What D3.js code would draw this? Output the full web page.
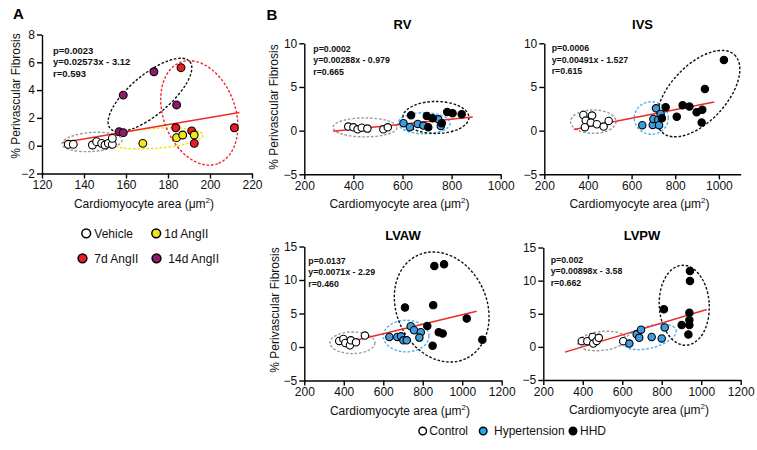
<!DOCTYPE html>
<html><head><meta charset="utf-8">
<script src="https://cdn.jsdelivr.net/npm/d3@7"></script>
<style>body{margin:0;background:#fff} svg{display:block;font-family:Arial,"Liberation Sans",Helvetica,sans-serif}</style>
</head><body><svg id="c" width="757" height="450"></svg>
<script>
// ---------------- DATA ----------------
// Panel A (x: cardiomyocyte area µm², y: % perivascular fibrosis)
const aVehicle = [[132.5,0.1],[134.9,0.1],[144.0,0.05],[146.0,0.29],[148.4,0.17],[150.0,0.05],[151.6,0.17],[153.5,0.1],[153.5,0.53]];
const a7d      = [[186.2,5.61],[183.7,1.29],[211.6,1.29],[191.3,1.06],[192.5,0.17]];
const a14d     = [[173.3,5.32],[158.7,3.64],[184.1,2.93],[156.7,1.0],[158.7,0.94]];
const a1d      = [[168.0,0.17],[184.1,0.58],[187.0,0.77],[192.5,0.77]];
const aXTicks = [120,140,160,180,200,220];
const aYTicks = [-2,0,2,4,6,8];
const aStats = ["p=0.0023","y=0.02573x - 3.12","r=0.593"];
const aFit = {slope:0.02573, intercept:-3.12, from:130, to:214};

// Panel B - RV
const rvControl = [[379,0.46],[400,0.38],[417,0.15],[434,0.34],[457,0.23],[522,0.15],[540,0.38]];
const rvHyper   = [[604,0.85],[630,0.4],[662,0.77],[685,0.58],[746,1.3],[756,0.54]];
const rvHHD     = [[635,1.76],[699,1.68],[723,1.42],[782,2.14],[804,1.99],[841,1.88],[705,0.39],[760,0.85]];
const rvStats = ["p=0.0002","y=0.00288x - 0.979","r=0.665"];
const rvFit = {slope:0.00288, intercept:-0.979, from:318, to:886};

// Panel B - IVS
const ivsControl = [[379,1.8],[390,1.15],[386,0.4],[419,1.72],[413,0.92],[441,0.73],[472,0.46],[495,1.11]];
const ivsHyper   = [[649,0.62],[697,0.65],[712,2.56],[700,1.34],[722,1.22],[733,1.91],[726,0.62]];
const ivsHHD     = [[756,2.68],[739,1.42],[807,1.6],[834,2.9],[865,2.75],[898,2.1],[924,2.4],[921,0.92],[936,4.78],[1023,8.1]];
const ivsStats = ["p=0.0006","y=0.00491x - 1.527","r=0.615"];
const ivsFit = {slope:0.00491, intercept:-1.527, from:336, to:979};

// Panel B - LVAW
const lvawControl = [[377,0.9],[398,1.2],[408,0.6],[431,0.25],[436,1.0],[462,0.7],[507,1.7]];
const lvawHyper   = [[631,1.5],[671,1.5],[690,1.6],[702,1.0],[719,1.0],[739,3.1],[756,2.5],[790,2.2],[783,1.4]];
const lvawHHD     = [[710,5.9],[859,12.1],[908,12.35],[853,6.25],[823,3.15],[881,2.2],[901,2.0],[850,0.2],[1023,4.25],[1102,1.1]];
const lvawStats = ["p=0.0137","y=0.0071x - 2.29","r=0.460"];
const lvawFit = {slope:0.0071, intercept:-2.29, from:384, to:1073};

// Panel B - LVPW
const lvpwControl = [[395,0.86],[423,0.86],[450,1.5],[453,0.5],[470,0.9],[481,1.37],[605,0.86]];
const lvpwHyper   = [[636,0.5],[673,1.9],[686,1.37],[695,2.6],[749,1.5],[800,1.27],[815,2.94]];
const lvpwHHD     = [[811,5.67],[943,11.47],[943,9.95],[940,5.15],[901,3.29],[940,4.04],[940,3.29],[935,1.88]];
const lvpwStats = ["p=0.002","y=0.00898x - 3.58","r=0.662"];
const lvpwFit = {slope:0.00898, intercept:-3.58, from:310, to:1028};

const bXTicksShort = [200,400,600,800,1000];
const bXTicksLong = [200,400,600,800,1000,1200];
const bYTicksTop = [-5,0,5,10];
const bYTicksBot = [-5,0,5,10,15];

const legendA = ["Vehicle","1d AngII","7d AngII","14d AngII"];
const legendB = ["Control","Hypertension","HHD"];

// ---------------- STYLE / LAYOUT ----------------
const C = {white:"#ffffff", yellow:"#f4e616", red:"#ec1c24", purple:"#8e1a6a", blue:"#3d9ddc", black:"#000000",
           gray:"#9a9a9a", eBlue:"#4fb0ee", eYellow:"#f2e400", eRed:"#f0282d", fit:"#ee2a2a"};

const svg = d3.select("#c");
const FONT = 12;

function panel(cfg){
  const x = d3.scaleLinear().domain(cfg.xDom).range([cfg.x0, cfg.x1]);
  const y = d3.scaleLinear().domain(cfg.yDom).range([cfg.yB, cfg.yT]);
  const g = svg.append("g");
  // axes
  const ax = g.append("g").attr("transform",`translate(0,${cfg.yB})`)
    .call(d3.axisBottom(x).tickValues(cfg.xTicks).tickSize(5).tickPadding(2).tickSizeOuter(0).tickFormat(d3.format("d")));
  const ay = g.append("g").attr("transform",`translate(${cfg.x0},0)`)
    .call(d3.axisLeft(y).tickValues(cfg.yTicks).tickSize(5).tickPadding(2).tickSizeOuter(0).tickFormat(d3.format("d")));
  [ax,ay].forEach(a=>{
    a.selectAll("path,line").attr("stroke","#000").attr("stroke-width",1.4);
    a.selectAll("text").attr("font-size",FONT).attr("fill","#111").attr("font-family","Arial, 'Liberation Sans', sans-serif");
  });
  // ellipses
  cfg.ellipses.forEach(e=>{
    g.append("ellipse")
      .attr("transform",`translate(${x(e.cx)},${y(e.cy)}) rotate(${e.rot||0})`)
      .attr("rx",e.rx).attr("ry",e.ry)
      .attr("fill","none").attr("stroke",e.color).attr("stroke-width",1.4).attr("stroke-dasharray","2.6,1.8");
  });
  // regression line
  const f = cfg.fit;
  g.append("line")
    .attr("x1",x(f.from)).attr("y1",y(f.slope*f.from+f.intercept))
    .attr("x2",x(f.to)).attr("y2",y(f.slope*f.to+f.intercept))
    .attr("stroke",C.fit).attr("stroke-width",1.5);
  // points
  cfg.series.forEach(s=>{
    g.selectAll(null).data(s.data).enter().append("circle")
      .attr("cx",d=>x(d[0])).attr("cy",d=>y(d[1])).attr("r",cfg.r)
      .attr("fill",s.color).attr("stroke","#000").attr("stroke-width",1.1);
  });
  // stats text
  cfg.stats.forEach((t,i)=>{
    g.append("text").attr("x",cfg.sx).attr("y",cfg.sy+i*cfg.sdy).text(t)
      .attr("font-size",cfg.sfont).attr("font-weight","bold").attr("fill","#111");
  });
  // title
  if(cfg.title){
    g.append("text").attr("x",(cfg.x0+cfg.x1)/2).attr("y",cfg.titleY).attr("text-anchor","middle")
      .attr("font-size",13).attr("font-weight","bold").text(cfg.title);
  }
  // x label
  const xl = g.append("text").attr("x",(cfg.x0+cfg.x1)/2 - 3).attr("y",cfg.yB+34).attr("text-anchor","middle")
    .attr("font-size",FONT).attr("fill","#111");
  xl.append("tspan").text("Cardiomyocyte area (\u03bcm");
  xl.append("tspan").text("2").attr("font-size",8).attr("dy",-5);
  xl.append("tspan").text(")").attr("dy",5);
  // y label
  if(cfg.ylab){
    g.append("text").attr("transform",`translate(${cfg.ylx},${cfg.yly}) rotate(-90)`).attr("text-anchor","middle")
      .attr("font-size",FONT).attr("fill","#111").text("% Perivascular Fibrosis");
  }
}

panel({x0:42,x1:252,yT:34.5,yB:173.5,xDom:[120,220],yDom:[-2,8],xTicks:aXTicks,yTicks:aYTicks,r:3.9,
  ellipses:[
    {cx:143.8,cy:0.27,rx:30,ry:9.5,rot:-4,color:C.gray},
    {cx:173.8,cy:0.53,rx:48,ry:10,rot:-4,color:C.eYellow},
    {cx:171.4,cy:3.65,rx:52,ry:20,rot:-40,color:"#111"},
    {cx:194.9,cy:2.36,rx:54,ry:36,rot:70,color:C.eRed}],
  fit:aFit,
  series:[{data:aVehicle,color:C.white},{data:a7d,color:C.red},{data:a14d,color:C.purple},{data:a1d,color:C.yellow}],
  stats:aStats,sx:53,sy:53.5,sdy:11.5,sfont:9.5,ylab:true,ylx:20,yly:96});

panel({x0:304.3,x1:500.7,yT:43.3,yB:174.3,xDom:[200,1000],yDom:[-5,10],xTicks:bXTicksShort,yTicks:bYTicksTop,r:3.7,
  ellipses:[
    {cx:447,cy:0.37,rx:32,ry:9.5,color:C.gray},
    {cx:688,cy:0.85,rx:26,ry:10.5,color:C.eBlue},
    {cx:736,cy:1.51,rx:33,ry:16,color:"#111"}],
  fit:rvFit,
  series:[{data:rvControl,color:C.white},{data:rvHyper,color:C.blue},{data:rvHHD,color:C.black}],
  stats:rvStats,sx:313.3,sy:51.5,sdy:11.7,sfont:8.8,title:"RV",titleY:28.5,ylab:true,ylx:278,yly:107});

panel({x0:544.3,x1:740.7,yT:43.3,yB:174.3,xDom:[200,1100],yDom:[-5,10],xTicks:bXTicksShort,yTicks:bYTicksTop,r:3.7,
  ellipses:[
    {cx:424.6,cy:1.03,rx:22.7,ry:11.7,color:C.gray},
    {cx:690.4,cy:1.45,rx:17,ry:16.3,color:C.eBlue},
    {cx:905.8,cy:4.24,rx:53,ry:28,rot:-47,color:"#111"}],
  fit:ivsFit,
  series:[{data:ivsControl,color:C.white},{data:ivsHyper,color:C.blue},{data:ivsHHD,color:C.black}],
  stats:ivsStats,sx:551.7,sy:51,sdy:11.7,sfont:8.8,title:"IVS",titleY:28.5,ylab:false});

panel({x0:304.3,x1:501.7,yT:246.5,yB:380.5,xDom:[200,1200],yDom:[-5,15],xTicks:bXTicksLong,yTicks:bYTicksBot,r:3.7,
  ellipses:[
    {cx:444,cy:0.63,rx:22.5,ry:10.8,color:C.gray},
    {cx:716,cy:1.63,rx:22.8,ry:15.8,color:C.eBlue},
    {cx:896,cy:5.97,rx:57,ry:45,rot:65,color:"#111"}],
  fit:lvawFit,
  series:[{data:lvawControl,color:C.white},{data:lvawHyper,color:C.blue},{data:lvawHHD,color:C.black}],
  stats:lvawStats,sx:308.3,sy:263.5,sdy:11.5,sfont:8.8,title:"LVAW",titleY:240,ylab:true,ylx:279,yly:310});

panel({x0:543.3,x1:740.7,yT:247.5,yB:380,xDom:[200,1200],yDom:[-5,15],xTicks:bXTicksLong,yTicks:bYTicksBot,r:3.7,
  ellipses:[
    {cx:496,cy:0.89,rx:24,ry:9.5,rot:-6,color:C.gray},
    {cx:740.5,cy:1.5,rx:27,ry:11,rot:-15,color:C.eBlue},
    {cx:914,cy:6.28,rx:25,ry:40,rot:-3,color:"#111"}],
  fit:lvpwFit,
  series:[{data:lvpwControl,color:C.white},{data:lvpwHyper,color:C.blue},{data:lvpwHHD,color:C.black}],
  stats:lvpwStats,sx:550.7,sy:262.5,sdy:11.5,sfont:8.8,title:"LVPW",titleY:240,ylab:false});

// panel letters
svg.append("text").attr("x",13).attr("y",18.5).attr("font-size",15).attr("font-weight","bold").text("A");
svg.append("text").attr("x",266.5).attr("y",19.5).attr("font-size",15).attr("font-weight","bold").text("B");

// legend A
const legAPos = [[86.2,233.3,94.3],[156.2,233.3,164.3],[82.5,258.3,94.3],[156.5,258.3,168.3]];
const legACol = [C.white,C.yellow,C.red,C.purple];
legendA.forEach((t,i)=>{
  const p = legAPos[i];
  svg.append("circle").attr("cx",p[0]).attr("cy",p[1]).attr("r",4.4).attr("fill",legACol[i]).attr("stroke","#000").attr("stroke-width",1.5);
  svg.append("text").attr("x",p[2]).attr("y",p[1]+4.3).attr("font-size",12).attr("fill","#111").text(t);
});
// legend B
const legBPos = [[422.7,429.3],[483.2,494],[573,580]];
const legBCol = [C.white,"#1ea7ee",C.black];
legendB.forEach((t,i)=>{
  const p = legBPos[i];
  svg.append("circle").attr("cx",p[0]).attr("cy",431).attr("r",3.8).attr("fill",legBCol[i]).attr("stroke","#000").attr("stroke-width",1.4);
  svg.append("text").attr("x",p[1]).attr("y",435.3).attr("font-size",12).attr("fill","#111").text(t);
});
</script></body></html>
